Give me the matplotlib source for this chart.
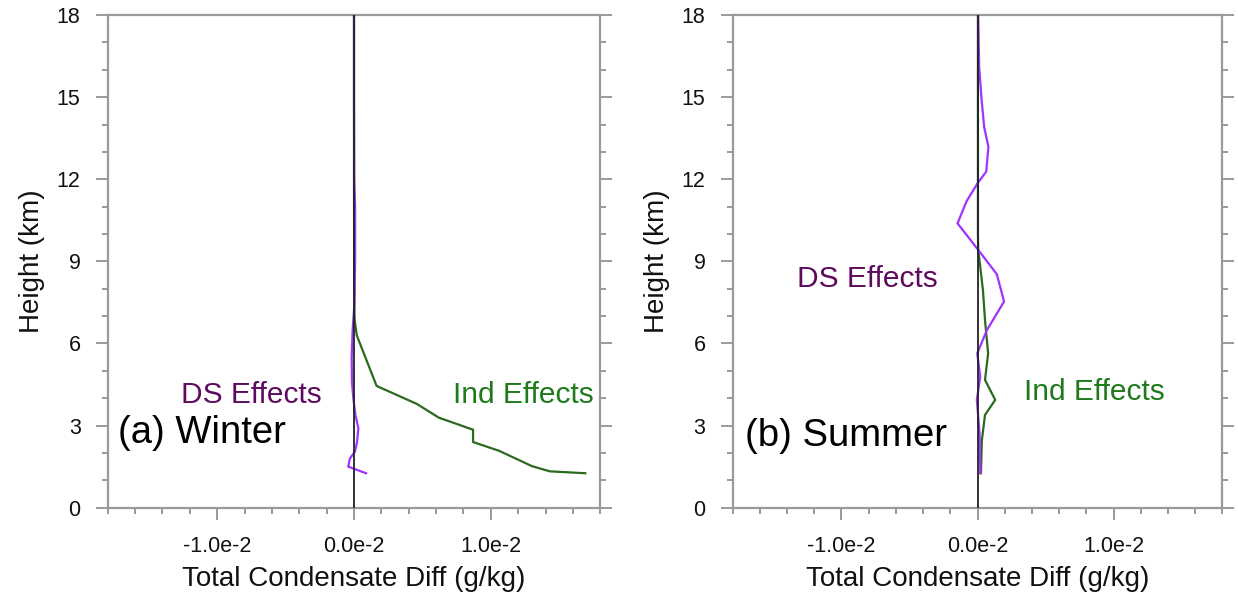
import matplotlib
matplotlib.use("Agg")
import matplotlib.pyplot as plt
from matplotlib.ticker import MultipleLocator

plt.rcParams['font.family'] = ['Liberation Sans', 'DejaVu Sans']

# ---------------- data (g/kg vs km) ----------------
winter_ind_h = [18.0, 15.0, 12.0, 9.0, 7.5, 6.85, 6.3, 4.45, 3.79, 3.29, 2.85, 2.40, 2.08, 1.52, 1.33, 1.26]
winter_ind_x = [0.0, 0.0, 0.0, 0.00001, 0.00002, 0.00005, 0.0002, 0.00165, 0.0046, 0.0062,
                0.0087, 0.0087, 0.0106, 0.0130, 0.0143, 0.0169]

winter_ds_h = [18.0, 15.0, 12.0, 11.0, 9.0, 7.5, 6.5, 5.5, 4.6, 4.0, 3.4, 2.9, 2.4, 2.05, 1.8, 1.5, 1.26]
winter_ds_x = [0.0, 0.0, 0.00002, 0.00008, 0.00008, 0.00004, -0.0001, -0.00017, -0.00015, -0.00005,
               0.0001, 0.00032, 0.00022, 0.00007, -0.0003, -0.00042, 0.00088]

summer_ds_h = [18.0, 16.1, 14.9, 13.9, 13.19, 12.28, 11.85, 11.2, 10.39, 9.42, 8.53, 7.53, 6.49, 5.64,
               4.79, 3.94, 2.72, 1.26]
summer_ds_x = [0.00005, 0.00012, 0.0003, 0.00049, 0.0008, 0.00064, 0.0, -0.0008, -0.00147, 0.00005,
               0.00142, 0.00195, 0.00069, -0.00002, 0.0002, -0.00005, 0.00015, 0.0002]

summer_ind_h = [18.0, 15.0, 12.0, 10.0, 9.42, 8.93, 7.94, 6.85, 5.64, 4.67, 3.94, 3.39, 2.47, 1.26]
summer_ind_x = [0.00003, 0.00003, 0.00003, 0.00003, 0.00005, 0.00017, 0.0004, 0.00055, 0.00078, 0.00055,
                0.0013, 0.00055, 0.00032, 0.00025]

x_ticks = [-0.01, 0.0, 0.01]
x_tick_labels = ["-1.0e-2", "0.0e-2", "1.0e-2"]
y_ticks = [0, 3, 6, 9, 12, 15, 18]

panels = [
    dict(title="(a) Winter", ind_h=winter_ind_h, ind_x=winter_ind_x, ds_h=winter_ds_h, ds_x=winter_ds_x,
         ds_pos=(-0.00233, 3.81, 'right'), ind_pos=(0.01753, 3.81, 'right'), title_pos=(-0.01725, 2.35)),
    dict(title="(b) Summer", ind_h=summer_ind_h, ind_x=summer_ind_x, ds_h=summer_ds_h, ds_x=summer_ds_x,
         ds_pos=(-0.00289, 8.08, 'right'), ind_pos=(0.00343, 3.94, 'left'), title_pos=(-0.0171, 2.25)),
]

PURPLE_LINE = '#a033ff'
GREEN_LINE = '#2a6a1e'
PURPLE_TXT = '#5e0a5e'
GREEN_TXT = '#1e7a1a'
GRAY = '#9a9a9a'

fig = plt.figure(figsize=(12.38, 6.01), dpi=100)
rects = [[0.0870, 0.1552, 0.3979, 0.8198], [0.5918, 0.1552, 0.3956, 0.8198]]

for rect, p in zip(rects, panels):
    ax = fig.add_axes(rect)
    ax.set_xlim(-0.018, 0.018)
    ax.set_ylim(0, 18)
    ax.plot(p['ind_x'], p['ind_h'], color=GREEN_LINE, lw=1.6, zorder=3)
    ax.plot(p['ds_x'], p['ds_h'], color=PURPLE_LINE, lw=1.6, zorder=4)
    ax.axvline(0, color='#222222', lw=1.3, zorder=5)

    ax.set_xticks(x_ticks)
    ax.set_xticklabels(x_tick_labels)
    ax.set_yticks(y_ticks)
    ax.xaxis.set_minor_locator(MultipleLocator(0.002))
    ax.yaxis.set_minor_locator(MultipleLocator(1))
    ax.tick_params(which='both', direction='out', top=False, right=True, left=True, bottom=True,
                   color=GRAY, width=1.4, labelsize=15.5, labelcolor='#111111')
    ax.tick_params(which='major', length=8.5)
    ax.tick_params(which='minor', length=4.5)
    ax.tick_params(axis='x', which='major', pad=12)
    ax.tick_params(axis='y', which='major', pad=11)
    for s in ax.spines.values():
        s.set_color(GRAY)
        s.set_linewidth(1.6)

    ax.set_xlabel("Total Condensate Diff (g/kg)", fontsize=20, color='#111111')
    ax.set_ylabel("Height (km)", fontsize=20, color='#111111')
    ax.xaxis.set_label_coords(0.5, -0.118)
    ax.yaxis.set_label_coords(-0.128, 0.5)

    x, y, ha = p['ds_pos']
    ax.text(x, y, "DS Effects", color=PURPLE_TXT, fontsize=21.5, ha=ha, va='baseline')
    x, y, ha = p['ind_pos']
    ax.text(x, y, "Ind Effects", color=GREEN_TXT, fontsize=21.5, ha=ha, va='baseline')
    x, y = p['title_pos']
    ax.text(x, y, p['title'], color='black', fontsize=27.5, ha='left', va='baseline')

fig.savefig("out.png", dpi=100)
